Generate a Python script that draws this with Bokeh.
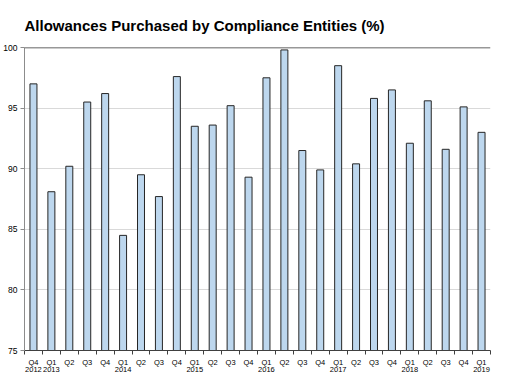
from bokeh.plotting import figure
from bokeh.models import Range1d, FixedTicker, ColumnDataSource, Span, LinearAxis
from bokeh.embed import file_html
from bokeh.resources import INLINE

# ---- data ----
quarters = ["Q4", "Q1", "Q2", "Q3", "Q4", "Q1", "Q2", "Q3", "Q4", "Q1", "Q2", "Q3", "Q4",
            "Q1", "Q2", "Q3", "Q4", "Q1", "Q2", "Q3", "Q4", "Q1", "Q2", "Q3", "Q4", "Q1"]
years = ["2012", "2013", "", "", "", "2014", "", "", "", "2015", "", "", "",
         "2016", "", "", "", "2017", "", "", "", "2018", "", "", "", "2019"]
pct_compliance = [97.0, 88.1, 90.2, 95.5, 96.2, 84.5, 89.5, 87.7, 97.6, 93.5, 93.6, 95.2, 89.3,
                  97.5, 99.8, 91.5, 89.9, 98.5, 90.4, 95.8, 96.5, 92.1, 95.6, 91.6, 95.1, 93.0]
y_ticks = [75, 80, 85, 90, 95, 100]
title_text = "Allowances Purchased by Compliance Entities (%)"

FONT = "Liberation Sans"
n = len(quarters)
xs = list(range(n))
year_pos = [i for i, y in enumerate(years) if y]

src = ColumnDataSource(dict(x=xs, top=pct_compliance))

p = figure(width=494, height=374, output_backend="svg", toolbar_location=None,
           x_range=Range1d(-0.5, n - 0.5), y_range=Range1d(y_ticks[0], y_ticks[-1]),
           min_border_left=4, min_border_right=4, min_border_top=8, min_border_bottom=0)

p.title.text = title_text
p.title.text_font = FONT
p.title.text_font_size = "15px"
p.title.text_font_style = "bold"
p.title.text_color = "black"
p.title.align = "left"
p.title.standoff = 28

p.outline_line_color = None
p.background_fill_color = "white"
p.border_fill_color = "white"

p.vbar(x="x", top="top", bottom=y_ticks[0], width=0.39, source=src,
       fill_color="#bdd7ee", line_color="#262626", line_width=1)

# y axis
p.yaxis.ticker = FixedTicker(ticks=y_ticks)
p.yaxis.axis_line_color = "#8c8c8c"
p.yaxis.major_tick_line_color = "#8c8c8c"
p.yaxis.major_tick_out = 4
p.yaxis.major_tick_in = 0
p.yaxis.minor_tick_line_color = None
p.yaxis.major_label_text_font = FONT
p.yaxis.major_label_text_font_size = "8.5px"
p.yaxis.major_label_text_color = "black"
p.yaxis.major_label_standoff = 3

p.ygrid.grid_line_color = "#d9d9d9"
p.xgrid.grid_line_color = None

top_line = Span(location=y_ticks[-1], dimension="width", line_color="#333333", line_width=1.5)
p.add_layout(top_line)

# x axis (quarters): labels at bar centres, tick marks between bars
p.xaxis.ticker = FixedTicker(ticks=xs, minor_ticks=[i - 0.5 for i in range(n + 1)])
p.xaxis.major_label_overrides = {i: q for i, q in enumerate(quarters)}
p.xaxis.axis_line_color = "#404040"
p.xaxis.major_tick_line_color = None
p.xaxis.minor_tick_line_color = "#404040"
p.xaxis.minor_tick_out = 4
p.xaxis.minor_tick_in = 0
p.xaxis.major_label_text_font = FONT
p.xaxis.major_label_text_font_size = "7.5px"
p.xaxis.major_label_text_color = "black"
p.xaxis.major_label_standoff = 1

# second row: years
year_axis = LinearAxis(ticker=FixedTicker(ticks=year_pos),
                       major_label_overrides={i: years[i] for i in year_pos},
                       axis_line_color=None, major_tick_line_color=None,
                       minor_tick_line_color=None, major_tick_out=0, major_tick_in=0,
                       major_label_standoff=-3,
                       major_label_text_font=FONT, major_label_text_font_size="7.5px",
                       major_label_text_color="black")
p.add_layout(year_axis, "below")

open("out.html", "w").write(file_html(p, INLINE))
